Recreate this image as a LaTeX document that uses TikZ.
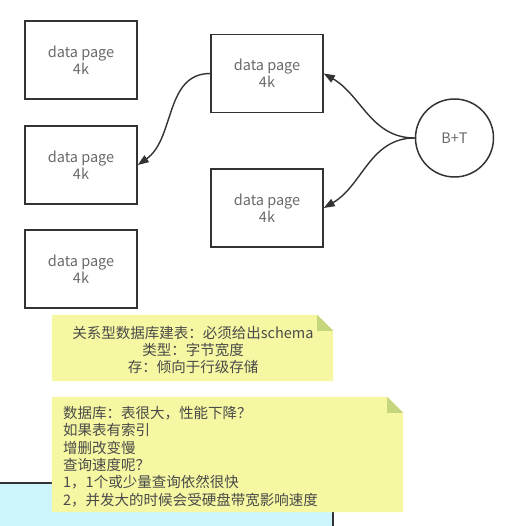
\documentclass[tikz,border=0pt]{standalone}
\usepackage{fontspec}
\setmainfont{Noto Sans CJK SC}
\usetikzlibrary{arrows.meta}
\definecolor{framegray}{HTML}{333333}
\definecolor{textgray}{HTML}{6A6A6A}
\definecolor{notetextgray}{HTML}{4A4A4A}
\definecolor{noteyellow}{HTML}{F5F7A2}
\definecolor{notefold}{HTML}{C6D67C}
\definecolor{panelcyan}{HTML}{CCF5FC}

\tikzset{
  page/.style={draw=framegray, line width=1.5pt, minimum width=112pt, minimum height=78pt,
    align=center, text=textgray, font=\fontsize{14.5}{17}\selectfont},
  link/.style={draw=framegray, line width=1.4pt, -{Triangle[length=11pt,width=8pt]}},
  notetext/.style={text=notetextgray, font=\fontsize{14.5}{17.4}\selectfont, inner sep=0pt},
}

\begin{document}
\begin{tikzpicture}[x=1pt, y=1pt]
    \useasboundingbox (0,0) rectangle (508,-526);

    % Panel at the bottom, partly hidden by the notes
    \fill[panelcyan] (0,-483) rectangle (333,-526);
    \draw[framegray, line width=1.5pt] (0,-483) -- (333,-483) -- (333,-526);

    % Left column of data pages
    \foreach \y [count=\i] in {60,165,269} {
      \node[page] (P\i) at (81,-\y) {data page\\4k};
    }

    % Middle column of data pages
    \node[page] (top) at (267,-73.5) {data page\\4k};
    \node[page] (bottom) at (267,-208) {data page\\4k};

    % The tree
    \node[draw=framegray, line width=1.5pt, circle, minimum size=78pt, text=textgray,
      font=\fontsize{14.5}{17}\selectfont] (bt) at (454.5,-138) {B+T};

    % Links
    \draw[link] (bt.west) to[out=180, in=-30] (top.east);
    \draw[link] (bt.west) to[out=180, in=30] (bottom.east);
    \draw[link] (top.west) to[out=180, in=35] (P2.east);

    % Notes: yellow sheets with a folded corner
    \node[minimum width=281pt, minimum height=66pt, inner sep=0pt] (note1) at (192.5,-348) {};
    \node[minimum width=351pt, minimum height=115pt, inner sep=0pt] (note2) at (227.5,-454.5) {};
    \foreach \n in {note1,note2} {
      \fill[noteyellow] (\n.south west) -- (\n.north west) -- ([xshift=-16pt]\n.north east)
        -- ([yshift=-16pt]\n.north east) -- (\n.south east) -- cycle;
      \fill[notefold] ([xshift=-16pt]\n.north east) -- ([yshift=-16pt]\n.north east)
        -- ([shift={(-16pt,-16pt)}]\n.north east) -- cycle;
    }
    \node[notetext, align=center] (note1text) at (193,-350)
      {关系型数据库建表：必须给出schema\\类型：字节宽度\\存：倾向于行级存储};
    \node[notetext, align=left, anchor=west] (note2text) at (63,-456.5)
      {数据库：表很大，性能下降？\\如果表有索引\\增删改变慢\\查询速度呢？\\1，1个或少量查询依然很快\\2，并发大的时候会受硬盘带宽影响速度};
\end{tikzpicture}
\end{document}
